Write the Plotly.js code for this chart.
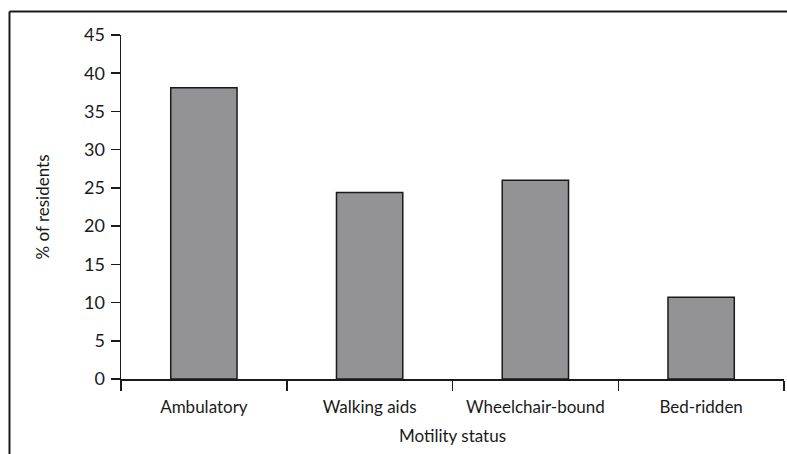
<!DOCTYPE html>
<html>
<head>
<meta charset="utf-8">
<script src="https://cdn.plot.ly/plotly-3.0.1.min.js"></script>
<style>html,body{margin:0;padding:0;background:#fff;}#chart{width:787px;height:454px;}</style>
</head>
<body>
<div id="chart"></div>
<script>
const categories = ["Ambulatory", "Walking aids", "Wheelchair-bound", "Bed-ridden"];
const percentResidents = [38.1, 24.4, 26.0, 10.7];
const yTickValues = [0, 5, 10, 15, 20, 25, 30, 35, 40, 45];

const fontFam = "Lato, 'Open Sans', sans-serif";

const trace = {
  type: "bar",
  x: categories,
  y: percentResidents,
  marker: {color: "#939396", line: {color: "#1a1a1a", width: 1.5}},
  width: 0.4,
  hoverinfo: "skip"
};

const layout = {
  width: 787, height: 454,
  margin: {l: 121, r: 3, t: 35, b: 75},
  paper_bgcolor: "#fff", plot_bgcolor: "#fff",
  showlegend: false,
  font: {family: fontFam, size: 17, color: "#1a1a1a"},
  xaxis: {
    range: [-0.5, 3.5],
    showline: true, linecolor: "#1a1a1a", linewidth: 1.5,
    ticks: "outside", tickson: "boundaries", ticklen: 10, tickwidth: 1.5, tickcolor: "#1a1a1a",
    showgrid: false, zeroline: false,
    tickfont: {family: fontFam, size: 17},
    ticklabelstandoff: 12,
    title: {text: "Motility status", font: {family: fontFam, size: 17}, standoff: 14}
  },
  yaxis: {
    range: [0, 45],
    tickvals: yTickValues,
    showline: true, linecolor: "#1a1a1a", linewidth: 1.5,
    ticks: "outside", ticklen: 9, tickwidth: 1.5, tickcolor: "#1a1a1a",
    showgrid: false, zeroline: false,
    tickfont: {family: fontFam, size: 18},
    ticklabelstandoff: 2,
    title: {text: "% of residents", font: {family: fontFam, size: 17}, standoff: 30}
  },
  shapes: [
    {type: "line", xref: "paper", yref: "paper", x0: -0.1682, x1: 1.01, y0: 1.0683, y1: 1.0683,
     line: {color: "#1a1a1a", width: 2}},
    {type: "line", xref: "paper", yref: "paper", x0: -0.1682, x1: -0.1682, y0: 1.0683, y1: -0.25,
     line: {color: "#1a1a1a", width: 2}}
  ]
};

Plotly.newPlot("chart", [trace], layout, {staticPlot: true, displayModeBar: false});
</script>
</body>
</html>
